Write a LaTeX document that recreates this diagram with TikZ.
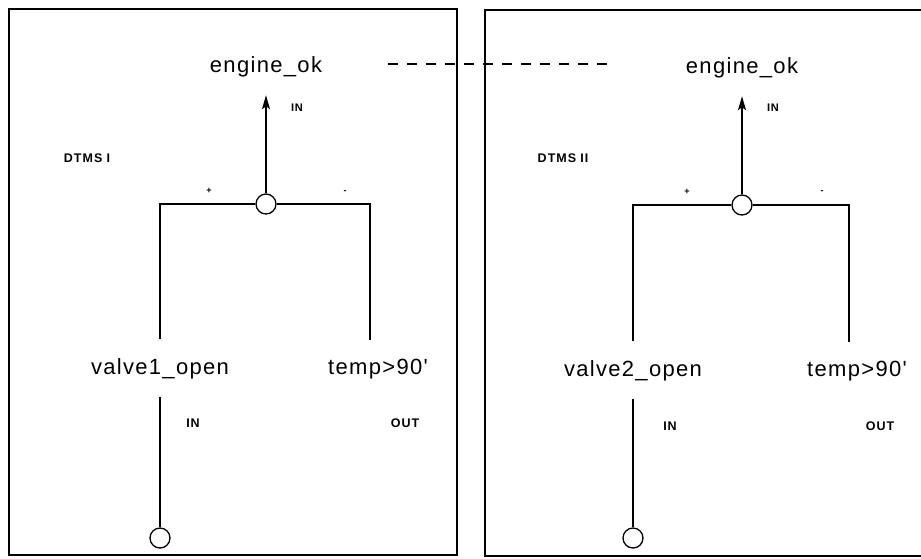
\documentclass[tikz,border=0pt]{standalone}
\usepackage{fontspec}
\setmainfont{Liberation Sans}
\newfontfamily\sigfont[LetterSpace=6]{Liberation Sans}
\newfontfamily\tagfont[LetterSpace=8]{Liberation Sans}
\usetikzlibrary{arrows.meta}
\begin{document}
\begin{tikzpicture}[
    x=1pt, y=-1pt,
    sig/.style={font=\sigfont\fontsize{22}{26}\selectfont, anchor=base, inner xsep=2pt, inner ysep=18pt},
    tag/.style={font=\tagfont\bfseries\fontsize{12.5}{14}\selectfont, inner sep=1pt},
    nametag/.style={font=\tagfont\bfseries\fontsize{12.5}{14}\selectfont, inner sep=1pt},
    smalltag/.style={font=\tagfont\bfseries\fontsize{11}{13}\selectfont, inner sep=1pt},
    junction/.style={circle, draw, fill=white, minimum size=20pt, inner sep=0pt},
    sign/.style={font=\bfseries\fontsize{9}{10}\selectfont, inner sep=0pt},
    panel/.style={line width=1.6pt},
    >={Stealth[length=14pt,width=8pt,inset=3pt]}, line width=1.3pt
  ]
  \useasboundingbox (0,0) rectangle (921,558);
  % DTMS I
  \draw[panel] (9,9) rectangle (457,555);
  \node[nametag] (nameI) at (87,158) {DTMS\,\,I};
  \node[sig] (okI) at (266,72) {engine\_ok};
  \node[junction] (junI) at (266,204) {};
  \node[sig] (valveI) at (160,374) {valve1\_open};
  \node[sig] (tempI) at (378,374) {temp>90'};
  \node[junction] (portI) at (160,538) {};
  \node[smalltag] (inokI) at (297,108) {IN};
  \node[sign] (plusI) at (209,191) {+};
  \node[sign] (minusI) at (345,192) {-};
  \node[tag] (invalveI) at (193,423) {IN};
  \node[tag] (outtempI) at (405,423) {OUT};
  \draw[->] (junI) -- (okI);
  \draw (junI) -| (valveI);
  \draw (junI) -| ([xshift=-8pt]tempI.north);
  \draw (valveI) -- (portI);
  % link between the two engine_ok signals
  \coordinate (dashL) at (388,64);
  \coordinate (dashR) at (607,64);
  \draw[panel, dash pattern=on 10pt off 9pt] (dashL) -- (dashR);
  % DTMS II
  \draw[panel] (921,10) -- (485,10) -- (485,556) -- (921,556);
  \node[nametag] (nameII) at (563,158) {DTMS\,\,II};
  \node[sig] (okII) at (742,73) {engine\_ok};
  \node[junction] (junII) at (742,205) {};
  \node[sig] (valveII) at (633,376) {valve2\_open};
  \node[sig] (tempII) at (857,376) {temp>90'};
  \node[junction] (portII) at (633,538) {};
  \node[smalltag] (inokII) at (773,108) {IN};
  \node[sign] (plusII) at (687,192) {+};
  \node[sign] (minusII) at (822,192) {-};
  \node[tag] (invalveII) at (670,426) {IN};
  \node[tag] (outtempII) at (880,426) {OUT};
  \draw[->] (junII) -- (okII);
  \draw (junII) -| (valveII);
  \draw (junII) -| ([xshift=-8pt]tempII.north);
  \draw (valveII) -- (portII);
\end{tikzpicture}
\end{document}
